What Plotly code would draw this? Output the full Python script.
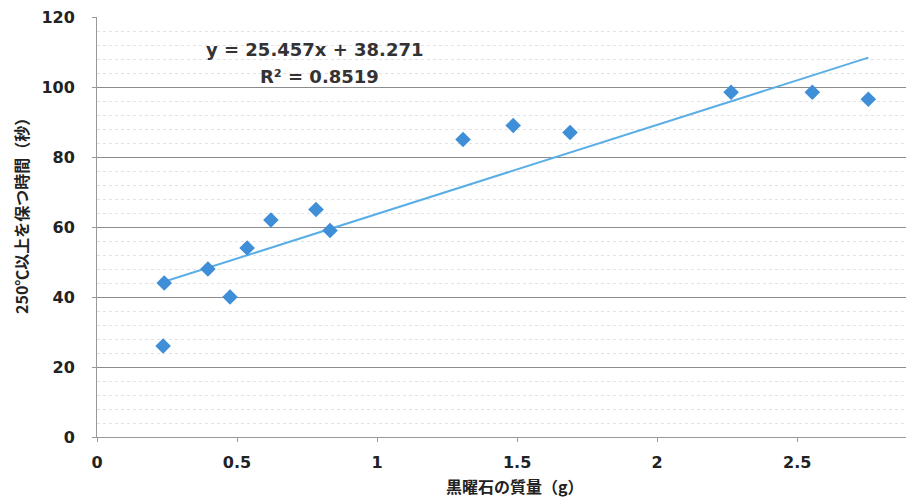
import plotly.graph_objects as go

mass_g = [0.24, 0.236, 0.396, 0.475, 0.536, 0.621, 0.782, 0.832, 1.307, 1.486, 1.689, 2.264, 2.554, 2.754]
time_s = [44, 26, 48, 40, 54, 62, 65, 59, 85, 89, 87, 98.5, 98.5, 96.5]

slope = 25.457
intercept = 38.271
r2 = 0.8519

x_ticks = [0, 0.5, 1, 1.5, 2, 2.5]
y_ticks = [0, 20, 40, 60, 80, 100, 120]

x_title = "黒曜石の質量（g）"
y_title = "250℃以上を保つ時間（秒）"

x0, x1 = min(mass_g), max(mass_g)
trend_x = [x0, x1]
trend_y = [slope * v + intercept for v in trend_x]

fig = go.Figure()
fig.add_trace(go.Scatter(
    x=trend_x, y=trend_y, mode="lines",
    line=dict(color="#5aaee6", width=2), showlegend=False, hoverinfo="skip"))
fig.add_trace(go.Scatter(
    x=mass_g, y=time_s, mode="markers",
    marker=dict(symbol="diamond", size=12, color="#3f8ed8"),
    showlegend=False))

eqfont = dict(family="DejaVu Sans", size=18, color="#333333", weight="bold")
fig.add_annotation(x=0.779, y=110.6, xref="x", yref="y", showarrow=False,
                   text=f"y = {slope}x + {intercept}", font=eqfont,
                   xanchor="center", yanchor="middle")
fig.add_annotation(x=0.796, y=102.9, xref="x", yref="y", showarrow=False,
                   text=f"R² = {r2}", font=eqfont,
                   xanchor="center", yanchor="middle")

titlefont = dict(family="Noto Sans CJK JP", size=16, color="#222222", weight="bold")
# plot area (figure px): left 89, right 904, top 9, bottom 429
fig.add_annotation(x=(507 - 89) / 815, y=(429 - 478) / 420, xref="paper", yref="paper",
                   showarrow=False, text=x_title, font=titlefont,
                   xanchor="center", yanchor="middle")
fig.add_annotation(x=(13 - 89) / 815, y=(429 - 204) / 420, xref="paper", yref="paper",
                   showarrow=False, text=y_title, font=titlefont, textangle=-90,
                   xanchor="center", yanchor="middle")

tickfont = dict(family="DejaVu Sans", size=16, color="#222222", weight="bold")

fig.update_layout(
    width=906, height=490,
    margin=dict(l=89, r=2, t=9, b=61),
    paper_bgcolor="white", plot_bgcolor="white",
    xaxis=dict(
        range=[0, 2.91], tickvals=x_ticks, ticktext=[str(v) for v in x_ticks],
        showgrid=False, zeroline=False, automargin=False,
        showline=True, linecolor="#999999", linewidth=1,
        ticks="outside", ticklen=4, tickcolor="#999999",
        ticklabelstandoff=7, ticklabeloverflow="allow",
        tickfont=tickfont,
    ),
    yaxis=dict(
        range=[0, 120], tickvals=y_ticks,
        showgrid=True, gridcolor="#8c8c8c", gridwidth=1,
        minor=dict(dtick=4, showgrid=True, gridcolor="#e2e2e2", griddash="dot", gridwidth=1),
        zeroline=False, automargin=False,
        showline=True, linecolor="#999999", linewidth=1,
        ticks="outside", ticklen=4, tickcolor="#999999",
        ticklabelstandoff=14, ticklabeloverflow="allow",
        tickfont=tickfont,
    ),
)

fig.write_html("out.html")
